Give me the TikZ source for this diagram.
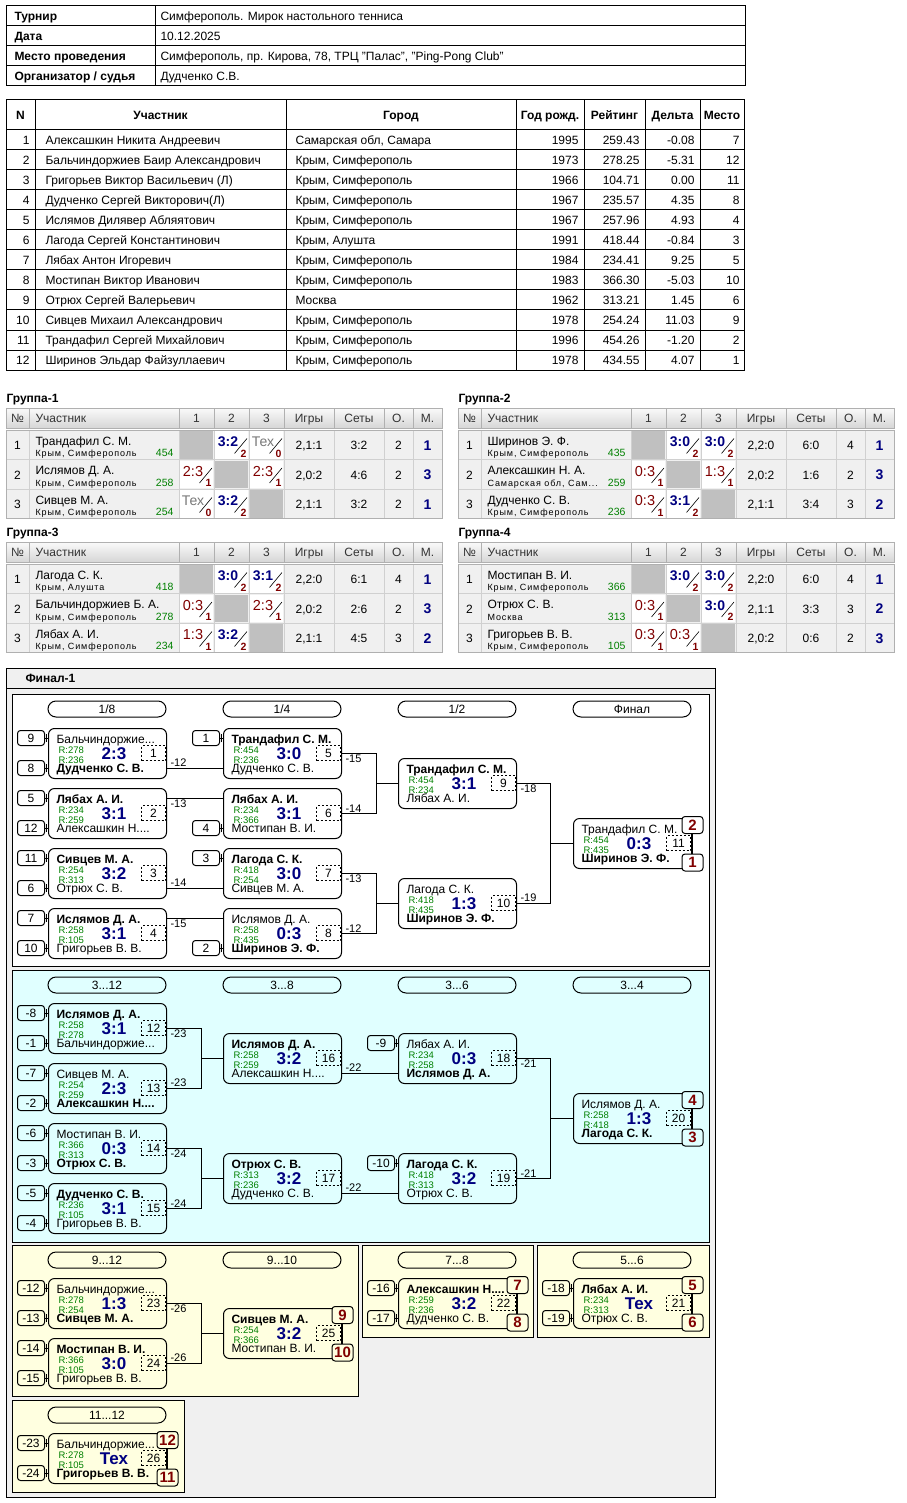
\documentclass[tikz,border=0pt]{standalone}
\usepackage{fontspec}
\setmainfont{Liberation Sans}
\newfontfamily\cityfont[LetterSpace=10]{Liberation Sans}

\definecolor{navy}{RGB}{0,0,128}
\definecolor{rgreen}{RGB}{0,128,0}
\definecolor{dred}{RGB}{128,0,0}
\definecolor{cyanbg}{RGB}{224,255,255}
\definecolor{yelbg}{RGB}{255,255,224}
\definecolor{outerbg}{RGB}{240,240,240}
\definecolor{cellgray}{RGB}{192,192,192}
\definecolor{rowbg}{RGB}{240,240,240}
\definecolor{gline}{RGB}{208,208,208}
\definecolor{hdline}{RGB}{176,176,176}
\definecolor{hdtop}{RGB}{250,250,250}
\definecolor{hdbot}{RGB}{214,214,214}
\definecolor{hdtext}{RGB}{51,51,51}
\definecolor{texgray}{RGB}{120,120,120}

\newcommand{\threedots}{...}

\tikzset{
  mbox/.style={draw, rounded corners=6pt, minimum width=118pt, minimum height=50pt, inner sep=0pt, anchor=north west},
  pname/.style={anchor=base west, inner sep=0pt, font=\fontsize{12}{14}\selectfont},
  rat/.style={anchor=base west, inner sep=0pt, text=rgreen, font=\fontsize{9.5}{10}\selectfont},
  score/.style={inner sep=0pt, text=navy, font=\fontsize{17}{18}\selectfont\bfseries},
  numbox/.style={draw, dash pattern=on 2pt off 2pt, minimum width=24pt, minimum height=15pt, inner sep=0pt, anchor=east, font=\fontsize{12}{13}\selectfont},
  seedbox/.style={draw, rounded corners=3pt, minimum width=27pt, minimum height=15pt, inner sep=0pt, anchor=east, font=\fontsize{12}{13}\selectfont},
  badge/.style={draw, rounded corners=3pt, fill=#1, minimum width=21pt, minimum height=17pt, inner sep=0pt, text=dred, font=\fontsize{15}{16}\selectfont\bfseries},
  badge/.default=white,
  pill/.style={draw, rounded corners=8pt, minimum width=118pt, minimum height=16pt, inner sep=0pt, font=\fontsize{12}{13}\selectfont},
  lbl/.style={inner xsep=3pt, inner ysep=1pt, font=\fontsize{11}{12}\selectfont},
  tcell/.style={anchor=base west, inner sep=0pt, font=\fontsize{12}{14}\selectfont},
  tlab/.style={tcell, font=\fontsize{12}{14}\selectfont\bfseries},
  thead/.style={anchor=base, inner sep=0pt, font=\fontsize{12}{14}\selectfont\bfseries},
  gtitle/.style={anchor=base west, inner sep=0pt, font=\fontsize{12}{14}\selectfont\bfseries},
  ghead/.style={anchor=base, inner sep=0pt, text=hdtext, font=\fontsize{12}{14}\selectfont},
  gtxt/.style={anchor=base, inner sep=0pt, font=\fontsize{12}{14}\selectfont},
  gname/.style={anchor=base west, inner sep=0pt, font=\fontsize{12}{14}\selectfont},
  gcity/.style={anchor=base west, inner sep=0pt, font=\cityfont\fontsize{9}{10}\selectfont},
  grate/.style={anchor=base east, inner sep=0pt, text=rgreen, font=\fontsize{10.5}{12}\selectfont},
  gwin/.style={inner sep=0pt, text=navy, font=\fontsize{14}{16}\selectfont\bfseries},
  glos/.style={inner sep=0pt, text=dred, font=\fontsize{14.5}{16}\selectfont},
  gtex/.style={inner sep=0pt, text=texgray, font=\fontsize{14}{16}\selectfont},
  gsmall/.style={inner sep=0pt, text=dred, font=\fontsize{10.5}{12}\selectfont\bfseries},
  gplace/.style={anchor=base, inner sep=0pt, text=navy, font=\fontsize{14}{16}\selectfont\bfseries},
}

% match: name, x, y, top player, R1, R2, score, bottom player, number
\newcommand{\mtch}[9]{%
  \node[mbox] (#1) at (#2,#3) {};
  \coordinate (#1-a) at (#2,#3+10);
  \coordinate (#1-b) at (#2,#3+40);
  \node[pname] (#1-p1) at (#2+8,#3+15) {#4};
  \node[rat] (#1-r1) at (#2+10,#3+25) {R:#5};
  \node[rat] (#1-r2) at (#2+10,#3+35) {R:#6};
  \node[score] (#1-sc) at (#2+66,#3+25.5) {#7};
  \node[pname] (#1-p2) at (#2+8,#3+44.5) {#8};
  \node[numbox] (#1-nr) at (#2+118,#3+25) {#9};
}
% seed box in front of a slot
\newcommand{\seedto}[3]{%
  \node[seedbox] (#1-s#2) at ([xshift=-3pt]#1-#2) {#3};
  \draw (#1-s#2) -- (#1-#2);
  \draw ([xshift=-1.5pt,yshift=-4pt]#1-#2) -- ([xshift=-1.5pt,yshift=4pt]#1-#2);
}
% places for winner and loser
\newcommand{\placebadges}[4]{%
  \node[badge=#4] (#1-w) at ([xshift=0.5pt,yshift=-7pt]#1.north east) {#2};
  \node[badge=#4] (#1-l) at ([xshift=0.5pt,yshift=6.5pt]#1.south east) {#3};
  \draw (#1-w) -- (#1-l);
}
% group cells
\newcommand{\rcell}[3]{%
  \fill[white] (\cx+1,\ry+1) rectangle (\cx+34,\ry+28.5);
  \node[#1] (\cid-s) at (\cx+14,\ry+12) {#2};
  \draw[line width=0.6pt] (\cx+20.5,\ry+23.5) -- (\cx+33,\ry+8.5);
  \node[gsmall] (\cid-m) at (\cx+29.5,\ry+23.5) {#3};
}
\newcommand{\rwin}[1]{\rcell{gwin}{#1}{2}}
\newcommand{\rlos}[1]{\rcell{glos}{#1}{1}}
\newcommand{\rtex}{\rcell{gtex}{Тех}{0}}
\newcommand{\rnone}{\fill[cellgray] (\cx+1,\ry+1) rectangle (\cx+34,\ry+28.5);}

\newcommand{\grouptable}[5]{%
\begin{scope}[shift={(#2,#3)}]
  \node[gtitle] (g#1-t) at (0,-5.5) {#4};
  \shade[top color=hdtop, bottom color=hdbot] (0,0) rectangle (436,20);
  \fill[rowbg] (0,22) rectangle (436,110.5);
  \foreach \gx in {23,173,208,243,278,328,378,407} {
    \draw[hdline] (\gx,0) -- (\gx,20);
    \draw[gline] (\gx,22) -- (\gx,110.5);
  }
  \draw[gline] (0,51.5) -- (436,51.5) (0,81) -- (436,81);
  \draw[hdline] (0,0) rectangle (436,20) (0,22) rectangle (436,110.5);
  \node[ghead] (g#1-h0) at (11.5,14.3) {№};
  \node[ghead, anchor=base west] (g#1-h1) at (29,14.3) {Участник};
  \foreach \k/\hdx/\hdt in {2/190.5/1,3/225.5/2,4/260.5/3,5/303/Игры,6/353/Сеты,7/392.5/О.,8/421.5/М.}
    \node[ghead] (g#1-h\k) at (\hdx,14.3) {\hdt};
  \foreach \i/\vnm/\vcty/\vrt/\va/\vb/\vc/\vgm/\vst/\vpt/\vpl in {#5} {
    \pgfmathsetmacro\ry{22+29.5*(\i-1)}
    \node[gtxt] (g#1-\i-no) at (11.5,\ry+19.5) {\i};
    \node[gname] (g#1-\i-nm) at (29,\ry+15) {\vnm};
    \node[gcity] (g#1-\i-ct) at (29,\ry+26.5) {\vcty};
    \node[grate] (g#1-\i-rt) at (168,\ry+26.5) {\vrt};
    \def\cx{173}\edef\cid{g#1-\i-1}\va
    \def\cx{208}\edef\cid{g#1-\i-2}\vb
    \def\cx{243}\edef\cid{g#1-\i-3}\vc
    \node[gtxt] (g#1-\i-gm) at (303,\ry+19.5) {\vgm};
    \node[gtxt] (g#1-\i-st) at (353,\ry+19.5) {\vst};
    \node[gtxt] (g#1-\i-pt) at (392.5,\ry+19.5) {\vpt};
    \node[gplace] (g#1-\i-pl) at (421.5,\ry+20) {\vpl};
  }
\end{scope}}

\begin{document}
\begin{tikzpicture}[x=1pt,y=-1pt,line width=1pt]
\useasboundingbox (0,0) rectangle (906,1503);

% tournament info
\draw (6,6) rectangle (745,86);
\foreach \y in {26,46,66} \draw (6,\y) -- (745,\y);
\draw (155,6) -- (155,86);
\foreach \i/\vlab/\vval in {1/Турнир/Симферополь. Мирок настольного тенниса,
  2/Дата/10.12.2025,
  3/Место проведения/{Симферополь, пр. Кирова, 78, ТРЦ "Палас", "Ping-Pong Club"},
  4/{Организатор / судья}/Дудченко С.В.} {
  \pgfmathsetmacro\ty{0.3+20*\i}
  \node[tlab] (i\i-l) at (14,\ty) {\vlab};
  \node[tcell] (i\i-v) at (160,\ty) {\vval};
}

% participants
\draw (6,100) rectangle (744,370);
\draw (6,130) -- (744,130);
\foreach \y in {150,170,...,350} \draw (6,\y) -- (744,\y);
\foreach \x in {35,286,516,584,645,700} \draw (\x,100) -- (\x,370);
\foreach \k/\hdx/\hdt in {1/20.5/N,2/160.5/Участник,3/401/Город,4/550/Год рожд.,5/614.5/Рейтинг,6/672.5/Дельта,7/722/Место}
  \node[thead] (th\k) at (\hdx,119.3) {\hdt};
\foreach \i/\vnm/\vcty/\vyr/\vrt/\vdl/\vpl in {
  1/Алексашкин Никита Андреевич/{Самарская обл, Самара}/1995/259.43/-0.08/7,
  2/Бальчиндоржиев Баир Александрович/{Крым, Симферополь}/1973/278.25/-5.31/12,
  3/Григорьев Виктор Васильевич (Л)/{Крым, Симферополь}/1966/104.71/0.00/11,
  4/Дудченко Сергей Викторович(Л)/{Крым, Симферополь}/1967/235.57/4.35/8,
  5/Ислямов Дилявер Абляятович/{Крым, Симферополь}/1967/257.96/4.93/4,
  6/Лагода Сергей Константинович/{Крым, Алушта}/1991/418.44/-0.84/3,
  7/Лябах Антон Игоревич/{Крым, Симферополь}/1984/234.41/9.25/5,
  8/Мостипан Виктор Иванович/{Крым, Симферополь}/1983/366.30/-5.03/10,
  9/Отрюх Сергей Валерьевич/Москва/1962/313.21/1.45/6,
  10/Сивцев Михаил Александрович/{Крым, Симферополь}/1978/254.24/11.03/9,
  11/Трандафил Сергей Михайлович/{Крым, Симферополь}/1996/454.26/-1.20/2,
  12/Ширинов Эльдар Файзуллаевич/{Крым, Симферополь}/1978/434.55/4.07/1} {
  \pgfmathsetmacro\ty{124.3+20*\i}
  \node[tcell, anchor=base east] (p\i-no) at (30,\ty) {\i};
  \node[tcell] (p\i-nm) at (45,\ty) {\vnm};
  \node[tcell] (p\i-ct) at (295,\ty) {\vcty};
  \node[tcell, anchor=base east] (p\i-yr) at (579,\ty) {\vyr};
  \node[tcell, anchor=base east] (p\i-rt) at (640,\ty) {\vrt};
  \node[tcell, anchor=base east] (p\i-dl) at (695,\ty) {\vdl};
  \node[tcell, anchor=base east] (p\i-pl) at (740,\ty) {\vpl};
}

% groups
\grouptable{1}{6}{408}{Группа-1}{
  1/Трандафил С. М./{Крым, Симферополь}/454/\rnone/\rwin{3:2}/\rtex/{2,1:1}/3:2/2/1,
  2/Ислямов Д. А./{Крым, Симферополь}/258/\rlos{2:3}/\rnone/\rlos{2:3}/{2,0:2}/4:6/2/3,
  3/Сивцев М. А./{Крым, Симферополь}/254/\rtex/\rwin{3:2}/\rnone/{2,1:1}/3:2/2/1}
\grouptable{2}{458}{408}{Группа-2}{
  1/Ширинов Э. Ф./{Крым, Симферополь}/435/\rnone/\rwin{3:0}/\rwin{3:0}/{2,2:0}/6:0/4/1,
  2/Алексашкин Н. А./{Самарская обл, Сам\threedots}/259/\rlos{0:3}/\rnone/\rlos{1:3}/{2,0:2}/1:6/2/3,
  3/Дудченко С. В./{Крым, Симферополь}/236/\rlos{0:3}/\rwin{3:1}/\rnone/{2,1:1}/3:4/3/2}
\grouptable{3}{6}{542}{Группа-3}{
  1/Лагода С. К./{Крым, Алушта}/418/\rnone/\rwin{3:0}/\rwin{3:1}/{2,2:0}/6:1/4/1,
  2/Бальчиндоржиев Б. А./{Крым, Симферополь}/278/\rlos{0:3}/\rnone/\rlos{2:3}/{2,0:2}/2:6/2/3,
  3/Лябах А. И./{Крым, Симферополь}/234/\rlos{1:3}/\rwin{3:2}/\rnone/{2,1:1}/4:5/3/2}
\grouptable{4}{458}{542}{Группа-4}{
  1/Мостипан В. И./{Крым, Симферополь}/366/\rnone/\rwin{3:0}/\rwin{3:0}/{2,2:0}/6:0/4/1,
  2/Отрюх С. В./Москва/313/\rlos{0:3}/\rnone/\rwin{3:0}/{2,1:1}/3:3/3/2,
  3/Григорьев В. В./{Крым, Симферополь}/105/\rlos{0:3}/\rlos{0:3}/\rnone/{2,0:2}/0:6/2/3}

% final
\fill[outerbg] (6,668) rectangle (715,1497);
\draw (6,668) rectangle (715,1497);
\draw (6,688) -- (715,688);
\node[gtitle] (fin) at (25,682.5) {Финал-1};
\draw[fill=white] (12,694) rectangle (709,966);
\draw[fill=cyanbg] (12,970) rectangle (709,1242);
\draw[fill=yelbg] (12,1245) rectangle (358,1396);
\draw[fill=yelbg] (362,1245) rectangle (533,1337);
\draw[fill=yelbg] (537,1245) rectangle (709,1337);
\draw[fill=yelbg] (12,1400) rectangle (184,1492);

\node[pill] (c18) at (107,709) {1/8};
\node[pill] (c14) at (282,709) {1/4};
\node[pill] (c12) at (457,709) {1/2};
\node[pill] (cf) at (632,709) {Финал};
\node[pill] (c312) at (107,985) {3...12};
\node[pill] (c38) at (282,985) {3...8};
\node[pill] (c36) at (457,985) {3...6};
\node[pill] (c34) at (632,985) {3...4};
\node[pill] (c912) at (107,1260) {9...12};
\node[pill] (c910) at (282,1260) {9...10};
\node[pill] (c78) at (457,1260) {7...8};
\node[pill] (c56) at (632,1260) {5...6};
\node[pill] (c1112) at (107,1415) {11...12};

% 1..2
\mtch{m1}{48}{728}{Бальчиндоржие...}{278}{236}{2:3}{\textbf{Дудченко С. В.}}{1}
\mtch{m2}{48}{788}{\textbf{Лябах А. И.}}{234}{259}{3:1}{Алексашкин Н....}{2}
\mtch{m3}{48}{848}{\textbf{Сивцев М. А.}}{254}{313}{3:2}{Отрюх С. В.}{3}
\mtch{m4}{48}{908}{\textbf{Ислямов Д. А.}}{258}{105}{3:1}{Григорьев В. В.}{4}
\mtch{m5}{223}{728}{\textbf{Трандафил С. М.}}{454}{236}{3:0}{Дудченко С. В.}{5}
\mtch{m6}{223}{788}{\textbf{Лябах А. И.}}{234}{366}{3:1}{Мостипан В. И.}{6}
\mtch{m7}{223}{848}{\textbf{Лагода С. К.}}{418}{254}{3:0}{Сивцев М. А.}{7}
\mtch{m8}{223}{908}{Ислямов Д. А.}{258}{435}{0:3}{\textbf{Ширинов Э. Ф.}}{8}
\mtch{m9}{398}{758}{\textbf{Трандафил С. М.}}{454}{234}{3:1}{Лябах А. И.}{9}
\mtch{m10}{398}{878}{Лагода С. К.}{418}{435}{1:3}{\textbf{Ширинов Э. Ф.}}{10}
\mtch{m11}{573}{818}{Трандафил С. М.}{454}{435}{0:3}{\textbf{Ширинов Э. Ф.}}{11}
\placebadges{m11}{2}{1}{white}
\seedto{m1}{a}{9} \seedto{m1}{b}{8}
\seedto{m2}{a}{5} \seedto{m2}{b}{12}
\seedto{m3}{a}{11} \seedto{m3}{b}{6}
\seedto{m4}{a}{7} \seedto{m4}{b}{10}
\seedto{m5}{a}{1} \seedto{m6}{b}{4}
\seedto{m7}{a}{3} \seedto{m8}{b}{2}
\draw (m1.east |- m1-b) node[lbl,above right] (m1-x) {-12} -- (m5-b);
\draw (m2.east |- m2-a) node[lbl,below right] (m2-x) {-13} -- (m6-a);
\draw (m3.east |- m3-b) node[lbl,above right] (m3-x) {-14} -- (m7-b);
\draw (m4.east |- m4-a) node[lbl,below right] (m4-x) {-15} -- (m8-a);
\draw (m5.east) node[lbl,below right] (m5-x) {-15} -- ++(34,0) |- (m9.west);
\draw (m6.east) node[lbl,above right] (m6-x) {-14} -- ++(34,0) |- (m9.west);
\draw (m7.east) node[lbl,below right] (m7-x) {-13} -- ++(34,0) |- (m10.west);
\draw (m8.east) node[lbl,above right] (m8-x) {-12} -- ++(34,0) |- (m10.west);
\draw (m9.east) node[lbl,below right] (m9-x) {-18} -- ++(33,0) |- (m11.west);
\draw (m10.east) node[lbl,above right] (m10-x) {-19} -- ++(33,0) |- (m11.west);

% 3..12
\mtch{m12}{48}{1003}{\textbf{Ислямов Д. А.}}{258}{278}{3:1}{Бальчиндоржие...}{12}
\mtch{m13}{48}{1063}{Сивцев М. А.}{254}{259}{2:3}{\textbf{Алексашкин Н....}}{13}
\mtch{m14}{48}{1123}{Мостипан В. И.}{366}{313}{0:3}{\textbf{Отрюх С. В.}}{14}
\mtch{m15}{48}{1183}{\textbf{Дудченко С. В.}}{236}{105}{3:1}{Григорьев В. В.}{15}
\mtch{m16}{223}{1033}{\textbf{Ислямов Д. А.}}{258}{259}{3:2}{Алексашкин Н....}{16}
\mtch{m17}{223}{1153}{\textbf{Отрюх С. В.}}{313}{236}{3:2}{Дудченко С. В.}{17}
\mtch{m18}{398}{1033}{Лябах А. И.}{234}{258}{0:3}{\textbf{Ислямов Д. А.}}{18}
\mtch{m19}{398}{1153}{\textbf{Лагода С. К.}}{418}{313}{3:2}{Отрюх С. В.}{19}
\mtch{m20}{573}{1093}{Ислямов Д. А.}{258}{418}{1:3}{\textbf{Лагода С. К.}}{20}
\placebadges{m20}{4}{3}{cyanbg}
\seedto{m12}{a}{-8} \seedto{m12}{b}{-1}
\seedto{m13}{a}{-7} \seedto{m13}{b}{-2}
\seedto{m14}{a}{-6} \seedto{m14}{b}{-3}
\seedto{m15}{a}{-5} \seedto{m15}{b}{-4}
\seedto{m18}{a}{-9} \seedto{m19}{a}{-10}
\draw (m12.east) node[lbl,below right] (m12-x) {-23} -- ++(34,0) |- (m16.west);
\draw (m13.east) node[lbl,above right] (m13-x) {-23} -- ++(34,0) |- (m16.west);
\draw (m14.east) node[lbl,below right] (m14-x) {-24} -- ++(34,0) |- (m17.west);
\draw (m15.east) node[lbl,above right] (m15-x) {-24} -- ++(34,0) |- (m17.west);
\draw (m16.east |- m16-b) node[lbl,above right] (m16-x) {-22} -- (m18-b);
\draw (m17.east |- m17-b) node[lbl,above right] (m17-x) {-22} -- (m19-b);
\draw (m18.east) node[lbl,below right] (m18-x) {-21} -- ++(33,0) |- (m20.west);
\draw (m19.east) node[lbl,above right] (m19-x) {-21} -- ++(33,0) |- (m20.west);

% 9..12
\mtch{m23}{48}{1278}{Бальчиндоржие...}{278}{254}{1:3}{\textbf{Сивцев М. А.}}{23}
\mtch{m24}{48}{1338}{\textbf{Мостипан В. И.}}{366}{105}{3:0}{Григорьев В. В.}{24}
\mtch{m25}{223}{1308}{\textbf{Сивцев М. А.}}{254}{366}{3:2}{Мостипан В. И.}{25}
\placebadges{m25}{9}{10}{yelbg}
\seedto{m23}{a}{-12} \seedto{m23}{b}{-13}
\seedto{m24}{a}{-14} \seedto{m24}{b}{-15}
\draw (m23.east) node[lbl,below right] (m23-x) {-26} -- ++(34,0) |- (m25.west);
\draw (m24.east) node[lbl,above right] (m24-x) {-26} -- ++(34,0) |- (m25.west);

% 7..8
\mtch{m22}{398}{1278}{\textbf{Алексашкин Н....}}{259}{236}{3:2}{Дудченко С. В.}{22}
\placebadges{m22}{7}{8}{yelbg}
\seedto{m22}{a}{-16} \seedto{m22}{b}{-17}

% 5..6
\mtch{m21}{573}{1278}{\textbf{Лябах А. И.}}{234}{313}{Тех}{Отрюх С. В.}{21}
\placebadges{m21}{5}{6}{yelbg}
\seedto{m21}{a}{-18} \seedto{m21}{b}{-19}

% 11..12
\mtch{m26}{48}{1433}{Бальчиндоржие...}{278}{105}{Тех}{\textbf{Григорьев В. В.}}{26}
\placebadges{m26}{12}{11}{yelbg}
\seedto{m26}{a}{-23} \seedto{m26}{b}{-24}
\end{tikzpicture}
\end{document}
